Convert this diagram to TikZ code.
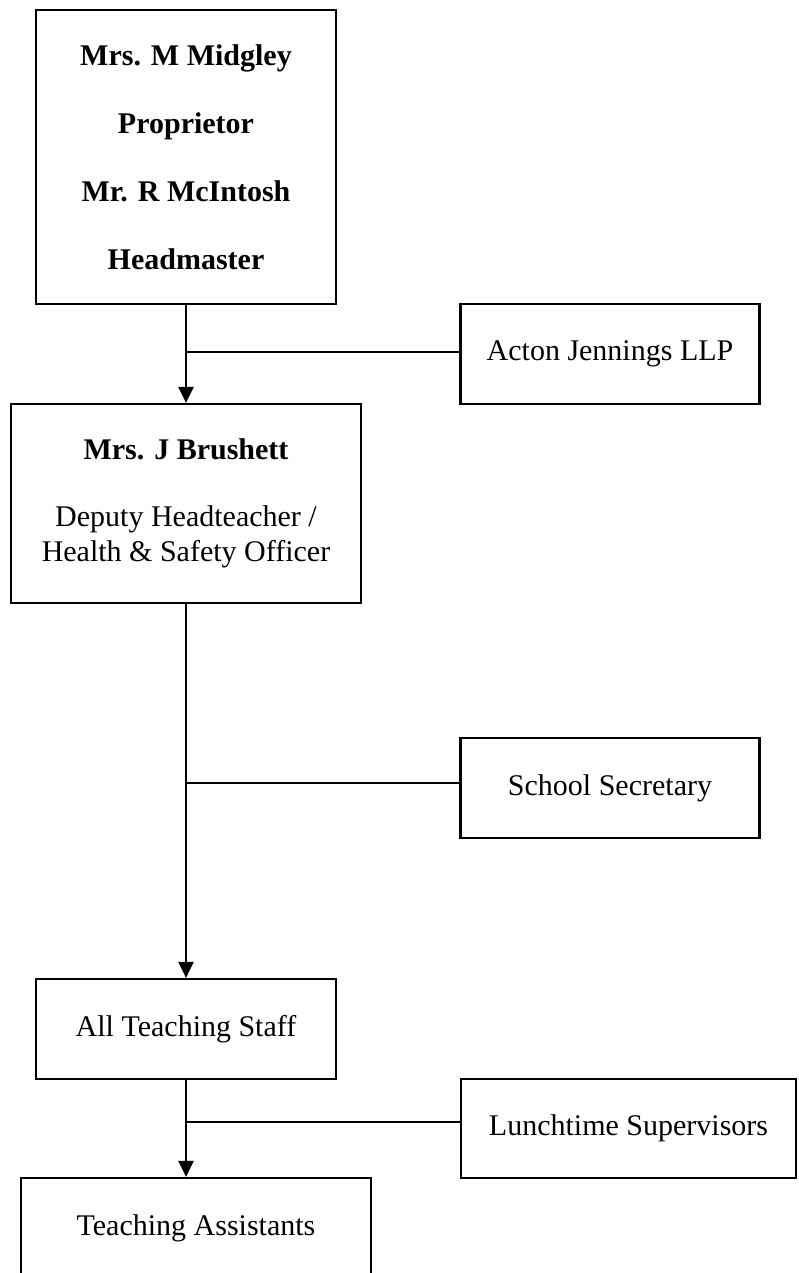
\documentclass[tikz,border=0pt]{standalone}
\usepackage{fontspec}
\setmainfont{Liberation Serif}
\usetikzlibrary{arrows.meta, positioning}

\begin{document}
\begin{tikzpicture}[
    x=1pt, y=-1pt,
    orgbox/.style  = {
        draw, line width=2.2pt, align=center,
        font=\fontsize{30}{35}\selectfont, inner sep=0pt
    },
    headbox/.style = {orgbox, minimum width=300pt, minimum height=294pt,
                      font=\fontsize{30}{68}\selectfont\bfseries},
    sidebox/.style = {orgbox, minimum width=299pt, minimum height=100pt},
    arr/.style     = {-{Triangle[length=16pt,width=15pt]}, line width=2.6pt},
    link/.style    = {line width=2pt}
  ]
  \useasboundingbox (0,0) rectangle (798,1273);

  %% main line
  \node[headbox] (head) at (186,157)
        {Mrs. M Midgley\\Proprietor\\Mr. R McIntosh\\Headmaster};
  \node[orgbox, minimum width=350pt, minimum height=199pt] (deputy) at (186,503.5)
        {\textbf{Mrs. J Brushett}\\[32pt]Deputy Headteacher /\\Health \& Safety Officer};
  \node[orgbox, minimum width=300pt, minimum height=100pt] (staff) at (186,1029)
        {All Teaching Staff};
  \node[orgbox, minimum width=350pt, minimum height=100pt] (assist) at (196,1228)
        {Teaching Assistants};

  %% side boxes
  \node[sidebox] (acton) at (610,354) {Acton Jennings LLP};
  \node[sidebox] (secretary) at (610,788) {School Secretary};
  \node[sidebox, minimum width=335pt, minimum height=99pt] (lunch) at (628.5,1128.5)
        {Lunchtime Supervisors};

  %% arrows
  \draw[arr] (head.south) -- (deputy.north);
  \draw[arr] (deputy.south) -- (staff.north);
  \draw[arr] (staff.south) -- (assist.north -| staff.south);

  %% branches
  \draw[link] ([yshift=2pt]acton.west) -- ([yshift=2pt]acton.west -| head.south);
  \draw[link] ([yshift=5pt]secretary.west) -- ([yshift=5pt]secretary.west -| deputy.south);
  \draw[link] ([yshift=6.5pt]lunch.west) -- ([yshift=6.5pt]lunch.west -| staff.south);

\end{tikzpicture}
\end{document}
